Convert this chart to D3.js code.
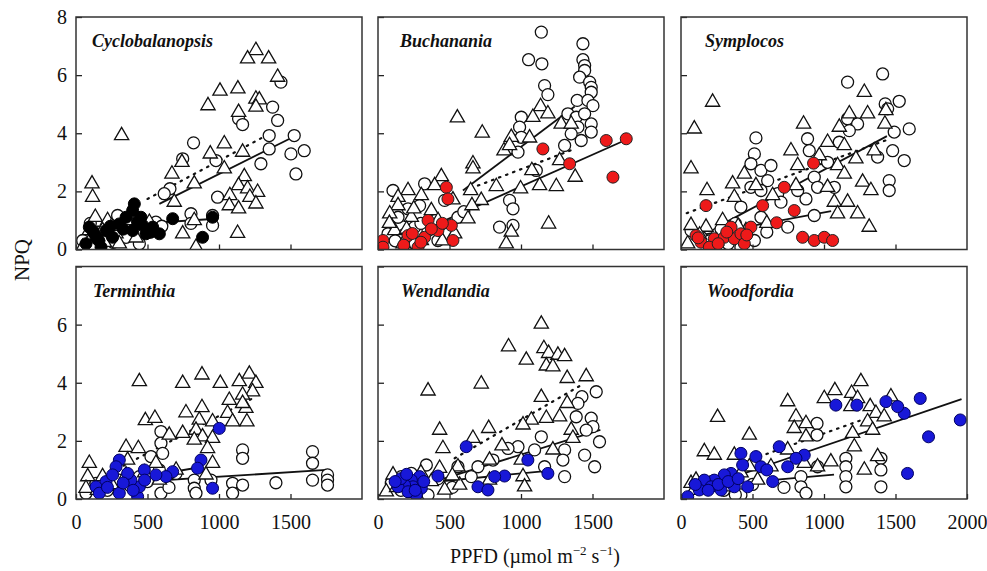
<!DOCTYPE html>
<meta charset="utf-8">
<script src="https://d3js.org/d3.v7.min.js"></script>
<style>
  body { margin: 0; background: #fff; }
  svg text { font-family: "Liberation Serif", "Times New Roman", serif; fill: #111; }
  .title { font-size: 18px; font-weight: bold; font-style: italic; }
  .lab { font-size: 20px; }
</style>
<body></body>
<script>

// ---- data: [PPFD, NPQ] ----

// Cyclobalanopsis
var cycTri = [[1258,6.85],[1200,6.56],[1347,6.56],[1410,5.93],[1007,5.45],[1132,5.53],[923,4.95],[1258,5.18],[1282,5.15],[1258,4.9],[1137,4.72],[319,3.92],[1037,3.64],[1165,3.35],[939,3.29],[741,3.0],[1037,2.78],[671,2.6],[1177,2.51],[827,2.26],[1137,2.2],[1200,2.09],[1270,1.97],[1076,1.86],[1216,1.8],[1072,1.51],[1137,1.4],[1258,1.57],[687,1.63],[112,2.26],[116,1.8],[1130,0.56],[746,0.54],[827,1.0],[135,1.11],[221,1.0],[361,1.0],[93,0.65],[186,0.65],[280,0.54],[105,0.37],[198,0.25],[303,0.2],[839,0.08],[47,0.08],[513,0.94],[250,0.8],[420,0.4],[150,0.45]];
var cycOpen = [[1433,5.76],[1375,4.9],[1410,4.44],[1137,4.5],[1165,4.3],[1526,3.92],[1351,3.92],[1351,3.46],[1596,3.4],[1503,3.29],[1538,2.6],[1293,2.95],[822,3.67],[746,3.12],[979,3.06],[657,2.09],[617,1.92],[990,1.8],[804,1.23],[955,1.17],[955,0.83],[804,0.9],[291,1.17],[559,0.94],[431,0.54],[443,0.2],[350,0.42],[233,0.65],[140,0.54],[47,0.31],[100,0.9],[180,0.3],[260,0.25],[520,0.6],[600,0.8],[380,0.9]];
var cycFill = [[408,1.57],[396,1.34],[454,1.11],[466,0.83],[583,0.54],[536,0.77],[955,1.11],[676,1.06],[885,0.42],[93,0.77],[140,0.42],[210,0.65],[303,0.88],[350,1.11],[256,0.42],[70,0.2],[396,0.65],[489,0.54],[175,0.08],[120,0.6],[240,0.8],[330,0.7],[430,0.95],[520,0.6],[160,0.3]];
var cycFits = { tri: [[500,1.74],[1375,4.04]], open: [[583,1.57],[1515,3.86]], fill: [[70,0.77],[955,1.05]] };

// Buchanania
var bucTri = [[555,4.53],[729,4.01],[1137,4.92],[1188,4.67],[1083,4.55],[1060,3.84],[932,3.86],[881,3.4],[920,3.58],[1281,4.32],[1351,4.32],[664,2.95],[664,2.78],[1076,2.72],[1270,3.06],[1379,2.49],[1130,2.2],[1247,2.17],[997,2.09],[827,2.17],[648,2.03],[722,1.69],[657,1.51],[443,2.51],[396,2.2],[210,2.03],[140,1.8],[303,1.86],[524,1.71],[140,1.51],[82,1.23],[233,1.11],[373,1.34],[629,1.06],[1193,0.88],[932,0.6],[897,0.2],[536,0.54],[116,0.65],[175,0.2],[303,0.31],[200,0.7],[420,1.0],[450,0.3],[250,1.4],[80,0.9]];
var bucOpen = [[1142,7.48],[1433,7.08],[1053,6.53],[1146,6.39],[1433,6.53],[1445,6.33],[1445,6.16],[1410,5.93],[1480,5.76],[1491,5.58],[1491,5.41],[1165,5.64],[1188,5.33],[1393,5.13],[1468,5.13],[1503,4.95],[1328,4.67],[1386,4.55],[1445,4.67],[1491,4.32],[1398,4.21],[1351,3.98],[1421,3.75],[1305,3.58],[1491,4.04],[1002,4.55],[990,4.21],[1002,3.86],[979,3.35],[920,1.69],[944,1.4],[850,0.77],[944,0.83],[1107,2.72],[326,2.26],[105,2.03],[210,1.4],[291,1.51],[466,1.69],[559,1.11],[256,0.77],[140,1.11],[419,0.31],[350,0.65],[489,0.54],[70,0.54],[221,0.2],[180,0.5],[300,0.9],[400,1.0],[120,0.3],[600,1.3],[260,0.2]];
var bucFill = [[1736,3.81],[1596,3.75],[1643,2.49],[1340,2.95],[1153,3.46],[478,2.14],[489,1.74],[419,0.65],[350,1.0],[513,0.83],[326,0.42],[210,0.48],[35,0.31],[35,0.08],[524,0.31],[373,0.71],[280,0.08],[300,0.25],[180,0.15],[450,0.9],[240,0.55]];
var bucFits = { tri: [[699,2.2],[1375,3.46]], open: [[594,2.03],[1375,4.92]], fill: [[390,0.83],[1700,3.7]] };

// Symplocos
var symTri = [[221,5.07],[93,4.15],[70,2.78],[182,2.03],[361,2.26],[443,2.6],[373,1.8],[524,2.2],[641,1.86],[769,3.4],[816,2.89],[857,4.32],[967,3.23],[804,2.2],[1025,2.14],[1095,2.89],[1142,2.6],[1107,4.21],[1177,4.67],[1282,5.41],[1305,4.67],[1223,3.12],[1351,3.4],[1426,4.32],[1433,4.78],[1270,2.32],[1328,2.03],[1072,1.63],[1165,1.63],[1095,1.23],[1235,1.23],[1316,0.77],[291,1.0],[70,0.83],[175,0.77],[454,0.65],[47,0.2],[1025,3.69],[1142,3.58],[130,0.5],[250,0.3],[400,0.8],[600,0.9]];
var symOpen = [[1410,6.04],[1165,5.76],[1428,5.01],[1526,5.1],[1445,4.84],[1596,4.15],[1491,4.04],[1480,3.4],[1561,3.06],[1375,3.18],[1456,2.37],[1456,2.03],[524,3.84],[513,3.29],[489,2.95],[559,2.72],[629,2.89],[606,2.37],[489,2.14],[559,2.03],[676,1.92],[699,1.63],[885,3.81],[897,3.4],[1025,3.0],[932,2.49],[955,2.14],[874,1.74],[816,2.03],[1165,4.5],[1235,4.32],[1177,4.09],[1107,3.69],[1072,2.14],[932,1.17],[746,0.77],[419,1.46],[559,1.11],[513,0.31],[70,0.65],[140,0.42],[256,0.54],[419,0.08],[200,0.3],[330,0.2],[280,0.7],[600,0.6],[380,0.9]];
var symFill = [[927,2.97],[722,2.14],[571,1.51],[792,1.34],[669,0.92],[175,1.51],[489,0.77],[350,0.77],[105,0.48],[140,0.25],[233,0.37],[303,0.42],[373,0.37],[419,0.54],[850,0.42],[932,0.31],[1002,0.42],[1060,0.31],[198,0.08],[443,0.2],[260,0.2],[320,0.6],[460,0.5],[120,0.4]];
var symFits = { tri: [[40,1.25],[1440,3.77]], open: [[300,0.9],[1440,3.9]], fill: [[150,0.5],[1050,1.32]] };

// Terminthia
var terTri = [[443,4.04],[746,3.98],[881,4.27],[1009,3.98],[1142,4.04],[1212,4.3],[1258,3.98],[1235,3.69],[1072,3.4],[1165,3.58],[1188,3.12],[1165,3.29],[881,3.15],[769,2.97],[1060,2.95],[1195,2.66],[1095,2.66],[485,2.7],[552,2.78],[862,2.72],[955,2.66],[746,2.26],[839,2.37],[885,2.14],[955,2.09],[652,2.2],[827,2.03],[920,1.74],[350,1.78],[436,1.74],[93,1.23],[361,1.34],[559,1.23],[82,0.77],[186,0.77],[350,0.83],[583,0.65],[909,0.83],[955,1.23],[70,0.37],[150,0.3],[250,0.5],[480,0.9],[700,1.0]];
var terOpen = [[594,2.32],[594,1.92],[606,1.57],[524,1.46],[1165,1.69],[1165,1.4],[1654,1.63],[1654,1.23],[1759,0.83],[1759,0.65],[1759,0.48],[1654,0.65],[1398,0.56],[1095,0.54],[1165,0.48],[1095,0.2],[827,0.65],[827,0.37],[839,0.2],[594,0.2],[583,1.0],[443,0.77],[303,0.65],[140,0.54],[70,0.2],[699,0.88],[944,0.65],[220,0.3],[380,0.45],[500,0.6],[650,0.4]];
var terFill = [[303,1.34],[280,1.11],[478,1.0],[874,1.34],[850,1.06],[676,0.94],[629,0.77],[955,0.37],[431,0.08],[303,0.2],[443,0.42],[210,0.6],[140,0.42],[384,0.65],[361,0.88],[256,0.83],[1002,2.43],[559,0.83],[163,0.2],[220,0.4],[330,0.55],[480,0.65],[400,0.3]];
var terFits = { tri: [[100,0.55],[1250,3.5]], open: [[300,0.55],[1750,1.0]], fill: [[70,0.42],[885,1.11]] };

// Wendlandia
var wenTri = [[1142,6.02],[913,5.24],[1037,4.78],[1160,5.18],[1193,5.01],[1258,4.95],[1305,4.9],[1177,4.58],[1223,4.55],[1323,4.15],[1456,4.21],[350,3.72],[722,3.96],[1142,3.5],[1323,3.29],[1270,2.83],[1177,2.78],[1072,2.72],[1014,2.55],[1351,2.37],[774,2.43],[431,2.37],[664,2.09],[454,1.74],[867,1.83],[1002,1.34],[1223,1.69],[1363,2.09],[559,1.11],[780,1.34],[1014,0.77],[1025,0.42],[780,0.65],[571,0.48],[431,1.06],[105,0.83],[198,0.71],[373,0.6],[466,0.31],[58,0.25],[130,0.4],[300,0.9],[250,0.2],[520,0.8]];
var wenOpen = [[1526,3.69],[1426,3.52],[1398,3.29],[1386,2.83],[1491,2.78],[1503,2.49],[1456,2.37],[1549,1.97],[1445,1.51],[1515,1.11],[1305,0.77],[1305,1.69],[1293,1.34],[1142,2.14],[1095,1.69],[979,1.8],[909,1.74],[804,1.34],[699,1.11],[559,1.11],[652,0.77],[338,1.17],[350,0.14],[233,0.88],[93,0.54],[163,0.77],[1165,1.11],[160,0.3],[280,0.5],[420,0.7],[520,0.4]];
var wenFill = [[617,1.8],[1048,1.34],[1188,0.88],[885,0.79],[816,0.77],[699,0.42],[769,0.31],[419,0.79],[291,0.77],[233,0.65],[245,0.42],[186,0.48],[140,0.42],[303,0.37],[268,0.14],[210,0.25],[160,0.7],[200,0.85],[320,0.6],[260,0.3],[120,0.6]];
var wenFits = { tri: [[536,1.4],[1421,3.92]], open: [[433,0.66],[1555,2.38]], fill: [[47,0.42],[1188,0.97]] };

// Woodfordia
var wooTri = [[1258,4.04],[1076,3.73],[1193,3.64],[1002,3.46],[746,3.35],[1235,3.46],[1468,3.52],[1323,3.18],[1188,3.18],[1363,2.95],[1421,2.83],[1305,2.66],[1340,2.37],[256,2.81],[804,2.83],[874,2.6],[792,2.43],[874,2.14],[478,2.2],[1200,2.26],[1212,1.8],[163,1.63],[233,1.51],[373,1.51],[746,1.69],[478,1.11],[1048,1.28],[1375,1.46],[1282,1.0],[955,1.11],[629,1.11],[862,1.23],[70,0.54],[105,0.65],[338,0.42],[536,0.65],[90,0.3],[200,0.5],[300,0.7],[420,0.9]];
var wooOpen = [[951,2.6],[951,2.2],[1153,1.4],[1153,1.11],[1153,0.77],[1153,0.42],[1398,1.4],[1398,1.0],[1398,0.42],[839,0.77],[839,0.42],[874,0.2],[955,1.11],[419,0.14],[300,0.3],[380,0.15],[500,0.5],[720,0.4]];
var wooFill = [[1673,3.46],[1953,2.72],[1731,2.14],[1584,0.88],[1561,2.95],[1515,3.18],[1433,3.35],[1230,3.23],[1083,3.23],[687,1.8],[862,1.51],[804,1.4],[641,0.6],[419,1.57],[431,1.17],[524,1.46],[559,1.11],[350,0.88],[303,0.83],[233,0.65],[163,0.65],[210,0.42],[280,0.31],[373,0.42],[466,0.42],[47,0.08],[128,0.31],[746,1.11],[100,0.5],[260,0.5],[330,0.6],[400,0.7],[190,0.3],[600,1.0]];
var wooFits = { tri: [[400,1.2],[1310,2.8]], open: [[650,0.66],[1070,0.84]], fill: [[450,0.9],[1962,3.44]] };

var yTicks = [0, 2, 4, 6, 8];
var xTicks = [0, 500, 1000, 1500];
var xTicksLast = [0, 500, 1000, 1500, 2000];

var panels = [
    {name: "Cyclobalanopsis", tri: cycTri, open: cycOpen, fill: cycFill, fits: cycFits, color: "#000"},
    {name: "Buchanania",      tri: bucTri, open: bucOpen, fill: bucFill, fits: bucFits, color: "#ee1a1a"},
    {name: "Symplocos",       tri: symTri, open: symOpen, fill: symFill, fits: symFits, color: "#ee1a1a"},
    {name: "Terminthia",      tri: terTri, open: terOpen, fill: terFill, fits: terFits, color: "#1818d8"},
    {name: "Wendlandia",      tri: wenTri, open: wenOpen, fill: wenFill, fits: wenFits, color: "#1818d8"},
    {name: "Woodfordia",      tri: wooTri, open: wooOpen, fill: wooFill, fits: wooFits, color: "#1818d8"}
];

// ---- layout ----
var colLeft = [76, 378, 681];
var rowTop = [17, 266.5];
var pw = 286, ph = 232.5;
var titleDx = [16, 22, 24, 17, 23, 26];

var svg = d3.select("body").append("svg")
    .attr("width", 987)
    .attr("height", 571);

var x = d3.scaleLinear().domain([0, 2000]).range([0, pw]);
var y = d3.scaleLinear().domain([0, 8]).range([ph, 0]);

var line = d3.line()
    .x(function(d) { return x(d[0]); })
    .y(function(d) { return y(d[1]); });

var tri = d3.symbol().type(d3.symbolTriangle).size(88);

panels.forEach(function(p, i) {
    var row = Math.floor(i / 3), col = i % 3;
    var g = svg.append("g")
        .attr("transform", "translate(" + colLeft[col] + "," + rowTop[row] + ")");

    g.append("clipPath").attr("id", "clip" + i)
      .append("rect").attr("width", pw).attr("height", ph);

    var plot = g.append("g").attr("clip-path", "url(#clip" + i + ")");

    // fit lines under the markers
    plot.append("path").datum(p.fits.tri).attr("d", line)
        .attr("fill", "none").attr("stroke", "#111").attr("stroke-width", 2.2)
        .attr("stroke-dasharray", "1.5,6").attr("stroke-linecap", "round");
    plot.append("path").datum(p.fits.open).attr("d", line)
        .attr("fill", "none").attr("stroke", "#111").attr("stroke-width", 1.8);
    plot.append("path").datum(p.fits.fill).attr("d", line)
        .attr("fill", "none").attr("stroke", "#111").attr("stroke-width", 1.8);

    plot.selectAll(".open").data(p.open).enter().append("circle")
        .attr("class", "open")
        .attr("cx", function(d) { return x(d[0]); })
        .attr("cy", function(d) { return y(d[1]); })
        .attr("r", 6)
        .attr("fill", "#fff").attr("stroke", "#111").attr("stroke-width", 1.3);

    plot.selectAll(".tri").data(p.tri).enter().append("path")
        .attr("class", "tri")
        .attr("d", tri)
        .attr("transform", function(d) { return "translate(" + x(d[0]) + "," + y(d[1]) + ")"; })
        .attr("fill", "#fff").attr("stroke", "#111").attr("stroke-width", 1.3);

    plot.selectAll(".fill").data(p.fill).enter().append("circle")
        .attr("class", "fill")
        .attr("cx", function(d) { return x(d[0]); })
        .attr("cy", function(d) { return y(d[1]); })
        .attr("r", 6)
        .attr("fill", p.color)
        .attr("stroke", col === 0 && row === 0 ? "#000" : (row === 1 ? "#000060" : "#222"))
        .attr("stroke-width", 1);

    // axes, ticks pointing inward
    var yAxis = d3.axisLeft(y).tickValues(yTicks).tickSizeInner(-6).tickSizeOuter(0).tickPadding(9)
        .tickFormat(function(d) {
            if (col !== 0) return "";
            if (row === 1 && d === 8) return "";
            return d;
        });
    var xAxis = d3.axisBottom(x).tickValues(i === 5 ? xTicksLast : xTicks)
        .tickSizeInner(-5).tickSizeOuter(0).tickPadding(16)
        .tickFormat(function(d) { return row === 1 ? d : ""; });

    var ya = g.append("g").call(yAxis);
    var xa = g.append("g").attr("transform", "translate(0," + ph + ")").call(xAxis);
    [ya, xa].forEach(function(a) {
        a.attr("font-family", null).attr("font-size", null);
        a.select(".domain").remove();
        a.selectAll("line").attr("stroke", "#222").attr("stroke-width", 1.3);
        a.selectAll("text").attr("class", "lab");
    });

    g.append("rect")
        .attr("width", pw).attr("height", ph)
        .attr("fill", "none").attr("stroke", "#333").attr("stroke-width", 1.5);

    g.append("text")
        .attr("class", "title")
        .attr("x", titleDx[i]).attr("y", 30)
        .text(p.name);
});

// axis titles
svg.append("text")
    .attr("class", "lab")
    .attr("transform", "translate(29,260) rotate(-90)")
    .attr("text-anchor", "middle")
    .style("font-size", "21px")
    .text("NPQ");

var xt = svg.append("text")
    .attr("class", "lab")
    .attr("x", 535).attr("y", 563)
    .attr("text-anchor", "middle");
xt.append("tspan").text("PPFD (\u00b5mol m");
xt.append("tspan").attr("dy", -8).style("font-size", "13px").text("\u22122");
xt.append("tspan").attr("dy", 8).text(" s");
xt.append("tspan").attr("dy", -8).style("font-size", "13px").text("\u22121");
xt.append("tspan").attr("dy", 8).text(")");

</script>
